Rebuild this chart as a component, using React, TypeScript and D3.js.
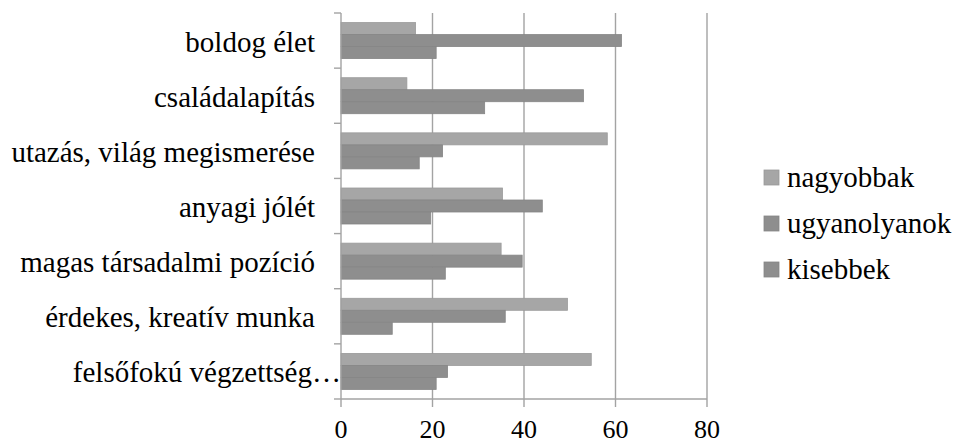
import React from "react";
import * as d3 from "d3";

const categories = [
  "boldog élet",
  "családalapítás",
  "utazás, világ megismerése",
  "anyagi jólét",
  "magas társadalmi pozíció",
  "érdekes, kreatív munka",
  "felsőfokú végzettség…",
];
const seriesNames = ["nagyobbak", "ugyanolyanok", "kisebbek"];
const nagyobbak = [16.3, 14.4, 58.2, 35.3, 35.0, 49.5, 54.7];
const ugyanolyanok = [61.3, 53.0, 22.2, 44.0, 39.6, 35.9, 23.3];
const kisebbek = [20.8, 31.4, 17.1, 19.6, 22.8, 11.2, 20.8];
const xTicks = [0, 20, 40, 60, 80];

const seriesValues = [nagyobbak, ugyanolyanok, kisebbek];
const fills = ["#a6a6a6", "#8e8e8e", "#8e8e8e"];
const strokes = ["#9a9a9a", "#858585", "#858585"];

export default function App() {
  const W = 955, H = 445;
  const left = 341, right = 707, top = 13, bottom = 399;
  const x = d3.scaleLinear().domain([0, 80]).range([left, right]);
  const y = d3
    .scaleBand<string>()
    .domain(categories)
    .range([top, bottom])
    .paddingInner(0.347)
    .paddingOuter(0.1735);
  const inner = d3.scaleBand<string>().domain(seriesNames).range([0, y.bandwidth()]);
  const step = (bottom - top) / categories.length;
  const font = "Liberation Serif, Tinos, Times New Roman, serif";
  const gridColor = "#a3a3a3";
  const ts = { fontFamily: font };

  return (
    <svg
      width={W}
      height={H}
      style={{ position: "absolute", left: 0, top: 0, background: "#fff", fontFamily: font }}
    >
      {xTicks.slice(1).map((t) => (
        <line key={"g" + t} x1={x(t)} x2={x(t)} y1={top} y2={bottom} stroke={gridColor} strokeWidth={1.4} />
      ))}
      {categories.map((c, i) =>
        seriesValues.map((vals, s) => (
          <rect
            key={c + s}
            x={x(0)}
            y={(y(c) as number) + (inner(seriesNames[s]) as number)}
            width={x(vals[i]) - x(0)}
            height={inner.bandwidth()}
            fill={fills[s]}
            stroke={strokes[s]}
            strokeWidth={0.8}
          />
        ))
      )}
      <line x1={left} x2={left} y1={top} y2={bottom} stroke={gridColor} strokeWidth={1.4} />
      <line x1={left} x2={right} y1={bottom} y2={bottom} stroke={gridColor} strokeWidth={1.4} />
      {d3.range(categories.length + 1).map((i) => (
        <line key={"yt" + i} x1={left - 7} x2={left} y1={top + i * step} y2={top + i * step} stroke={gridColor} strokeWidth={1.4} />
      ))}
      {xTicks.map((t) => (
        <line key={"xt" + t} x1={x(t)} x2={x(t)} y1={bottom} y2={bottom + 8} stroke={gridColor} strokeWidth={1.4} />
      ))}
      {xTicks.map((t) => (
        <text key={"xl" + t} x={x(t)} y={438} textAnchor="middle" fontSize={26} fill="#000" style={ts}>
          {t}
        </text>
      ))}
      {categories.map((c, i) => (
        <text
          key={"cl" + c}
          x={i === categories.length - 1 ? 341 : 315}
          y={top + (i + 0.5) * step + 11}
          textAnchor="end"
          fontSize={29}
          fill="#000"
          style={ts}
        >
          {c}
        </text>
      ))}
      {seriesNames.map((n, i) => (
        <g key={"lg" + n} transform={`translate(764, ${177.5 + i * 46})`}>
          <rect x={0} y={-7.5} width={15} height={15} fill={fills[i]} stroke={strokes[i]} strokeWidth={0.8} />
          <text x={23} y={9.5} fontSize={29} fill="#000" style={ts}>
            {n}
          </text>
        </g>
      ))}
    </svg>
  );
}
